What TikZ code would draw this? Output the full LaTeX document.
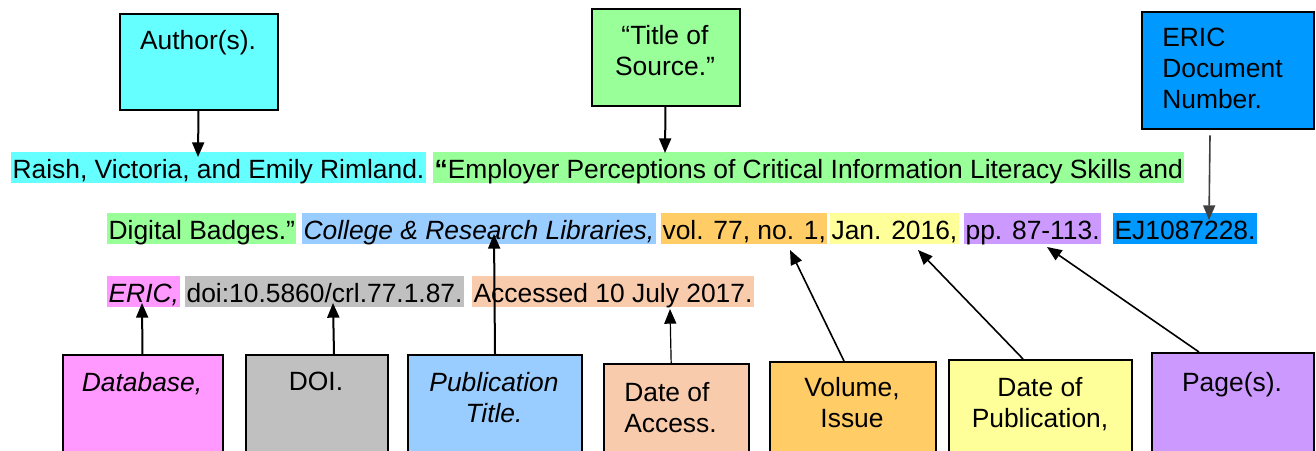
\documentclass[tikz,border=0pt]{standalone}
\usepackage{fontspec}
\setmainfont{Liberation Sans}
\usetikzlibrary{arrows.meta}

\definecolor{authorcol}{HTML}{66FFFF}
\definecolor{titlecol}{HTML}{99FF99}
\definecolor{ericcol}{HTML}{0099FF}
\definecolor{dbcol}{HTML}{FF99FF}
\definecolor{doicol}{HTML}{C0C0C0}
\definecolor{journalcol}{HTML}{99CCFF}
\definecolor{accesscol}{HTML}{F8CBAD}
\definecolor{volcol}{HTML}{FFCC66}
\definecolor{datecol}{HTML}{FFFF99}
\definecolor{pagecol}{HTML}{CC99FF}

\begin{document}
\begin{tikzpicture}[x=0.75pt,y=-0.75pt,
    hilite/.style={anchor=base west,inner xsep=1pt,inner ysep=0pt,text height=19.5pt,text depth=3.75pt},
    tagbox/.style={draw,line width=1.5pt,anchor=north west,inner sep=0pt},
    tagtext/.style={anchor=north,inner sep=0pt,align=center},
    pointer/.style={line width=1.5pt,-{Triangle[length=11pt,width=9pt]}}]
            \useasboundingbox (0,0) rectangle (1316,450);
            {\fontsize{19.8pt}{23.25pt}\selectfont

            % Marking citation line 1
            \node [hilite,fill=authorcol] (rimland) at (11,178) {Raish, Victoria, and Emily Rimland.};%
            \node [hilite,fill=titlecol] (titleA) at (433,178) {\textbf{“}Employer Perceptions of Critical Information Literacy Skills and};%

            % Marking citation line 2
            \node [hilite,fill=titlecol] (titleB) at (107,239) {Digital Badges.”};%
            \node [hilite,fill=journalcol,font=\itshape] (journal) at (302,239) {College \& Research Libraries,};%
            \node [hilite,fill=volcol] (volno) at (661,239) {vol. 77, no. 1,};%
            \node [hilite,fill=datecol] (pubdate) at (830,239) {Jan. 2016,};%
            \node [hilite,fill=pagecol] (pagerange) at (964,239) {pp. 87-113.};%
            \node [hilite,fill=ericcol] (ericno) at (1113,239) {EJ1087228.};%

            % Marking citation line 3
            \node [hilite,fill=dbcol,font=\itshape] (eric) at (107,302) {ERIC,};%
            \node [hilite,fill=doicol] (doinum) at (185,302) {doi:10.5860/crl.77.1.87.};%
            \node [hilite,fill=accesscol] (accessed) at (472,302) {Accessed 10 July 2017.};%

            % Drawing boxes above
            \node [tagbox,fill=authorcol,minimum width=118.5pt,minimum height=72pt] (author) at (119,13) {};%
            \node [tagbox,fill=titlecol,minimum width=111pt,minimum height=72.75pt] (title) at (591,8) {};%
            \node [tagbox,fill=ericcol,minimum width=129pt,minimum height=87.75pt] (ericbox) at (1141,11) {};%
            \node [tagtext] (authorlbl) at (198,30) {Author(s).};%
            \node [tagtext] (titlelbl) at (665,25) {“Title of\\Source.”};%
            \node [tagtext,anchor=north west,align=left] (ericlbl) at (1162,28) {ERIC\\Document\\Number.};%

            % Drawing boxes below
            \node [tagbox,fill=dbcol,minimum width=120pt,minimum height=78pt] (database) at (62,354) {};%
            \node [tagbox,fill=doicol,minimum width=106.5pt,minimum height=78pt] (doi) at (245,354) {};%
            \node [tagbox,fill=journalcol,minimum width=130.5pt,minimum height=78pt] (pubtitle) at (407,354) {};%
            \node [tagbox,fill=accesscol,minimum width=108.75pt,minimum height=78pt] (access) at (603,363) {};%
            \node [tagbox,fill=volcol,minimum width=124.5pt,minimum height=78pt] (volume) at (769,361) {};%
            \node [tagbox,fill=datecol,minimum width=137.25pt,minimum height=78pt] (datepub) at (948,359) {};%
            \node [tagbox,fill=pagecol,minimum width=121.5pt,minimum height=78pt] (pages) at (1151,352) {};%
            \node [tagtext,font=\itshape] (databaselbl) at (142,372) {Database,};%
            \node [tagtext] (doilbl) at (316,372) {DOI.};%
            \node [tagtext,font=\itshape] (pubtitlelbl) at (494,372) {Publication\\Title.};%
            \node [tagtext,anchor=north west,align=left] (accesslbl) at (624,382) {Date of\\Access.};%
            \node [tagtext] (volumelbl) at (852,377) {Volume,\\Issue};%
            \node [tagtext] (datepublbl) at (1040,377) {Date of\\Publication,};%
            \node [tagtext] (pageslbl) at (1232,372) {Page(s).};%

            % Marking arrow tips
            \coordinate (authortip) at (198,157);%
            \coordinate (titletip) at (665,153);%
            \coordinate (erictip) at (1209,220);%
            \coordinate (databasetip) at (142,303);%
            \coordinate (doitip) at (333,303);%
            \coordinate (pubtip) at (494,234);%
            \coordinate (accesstip) at (670,309);%
            \coordinate (volumetip) at (790,250);%
            \coordinate (datepubtip) at (918,250);%
            \coordinate (pagestip) at (1047,247);%

            % Drawing arrows
            \draw [pointer] (author) -- (authortip);%
            \draw [pointer] (title) -- (titletip);%
            \draw [pointer,line width=1.2pt,draw=black!75] ([xshift=-13.5pt,yshift=-4pt]ericbox.south) -- (erictip);%
            \draw [pointer] (database) -- (databasetip);%
            \draw [pointer] ([xshift=12.75pt]doi.north) -- (doitip);%
            \draw [pointer] (pubtitle.north) -- (pubtip);%
            \draw [pointer,line width=0.9pt] ([xshift=-4pt]access.north) -- (accesstip);%
            \draw [pointer,line width=1.2pt] ([xshift=-6.75pt]volume.north) -- (volumetip);%
            \draw [pointer,line width=1.2pt] ([xshift=-13.1pt]datepub.north) -- (datepubtip);%
            \draw [pointer,line width=1.2pt] ([xshift=-25.5pt]pages.north) -- (pagestip);%
            }
\end{tikzpicture}
\end{document}
